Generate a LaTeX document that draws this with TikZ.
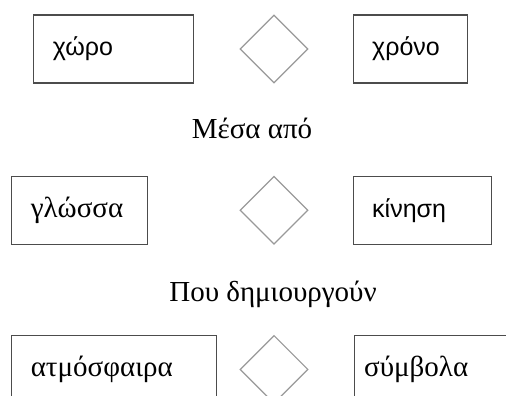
\documentclass[tikz,border=0pt]{standalone}
\usepackage{fontspec}
\setmainfont{Liberation Serif}
\setsansfont{Liberation Sans}
\usetikzlibrary{positioning,shapes.geometric}

\begin{document}
\begin{tikzpicture}[x=1pt, y=1pt, font=\fontsize{29}{33}\selectfont, termbox/.style={draw=black!70, line width=1.2pt, minimum height=68pt, align=left, inner xsep=19pt}, sansterm/.style={termbox, font=\sffamily\fontsize{25}{29}\selectfont}, joint/.style={draw=black!40, line width=1.2pt, diamond, minimum width=68pt, minimum height=68pt, inner sep=0pt}, caption/.style={anchor=base}]
\useasboundingbox (0,0) rectangle (506,-396);
\node[joint] (rel1) at (274,-49) {};
\node[joint, below=92pt of rel1] (rel2) {};
\node[joint, below=90pt of rel2] (rel3) {};
\node[sansterm, text width=122pt, left=45pt of rel1] (space) {χώρο};
\node[sansterm, text width=76pt, right=44pt of rel1] (time) {χρόνο};
\node[termbox, text width=98pt, left=91pt of rel2] (language) {γλώσσα};
\node[sansterm, text width=100pt, right=44pt of rel2] (motion) {κίνηση};
\node[termbox, text width=167pt, left=22pt of rel3] (atmosphere) {ατμόσφαιρα};
\node[termbox, text width=145pt, inner xsep=10pt, right=45pt of rel3] (symbols) {σύμβολα};
\node[caption] (through) at (252,-138) {Μέσα από};
\node[caption] (create) at (273,-301) {Που δημιουργούν};
\end{tikzpicture}
\end{document}
